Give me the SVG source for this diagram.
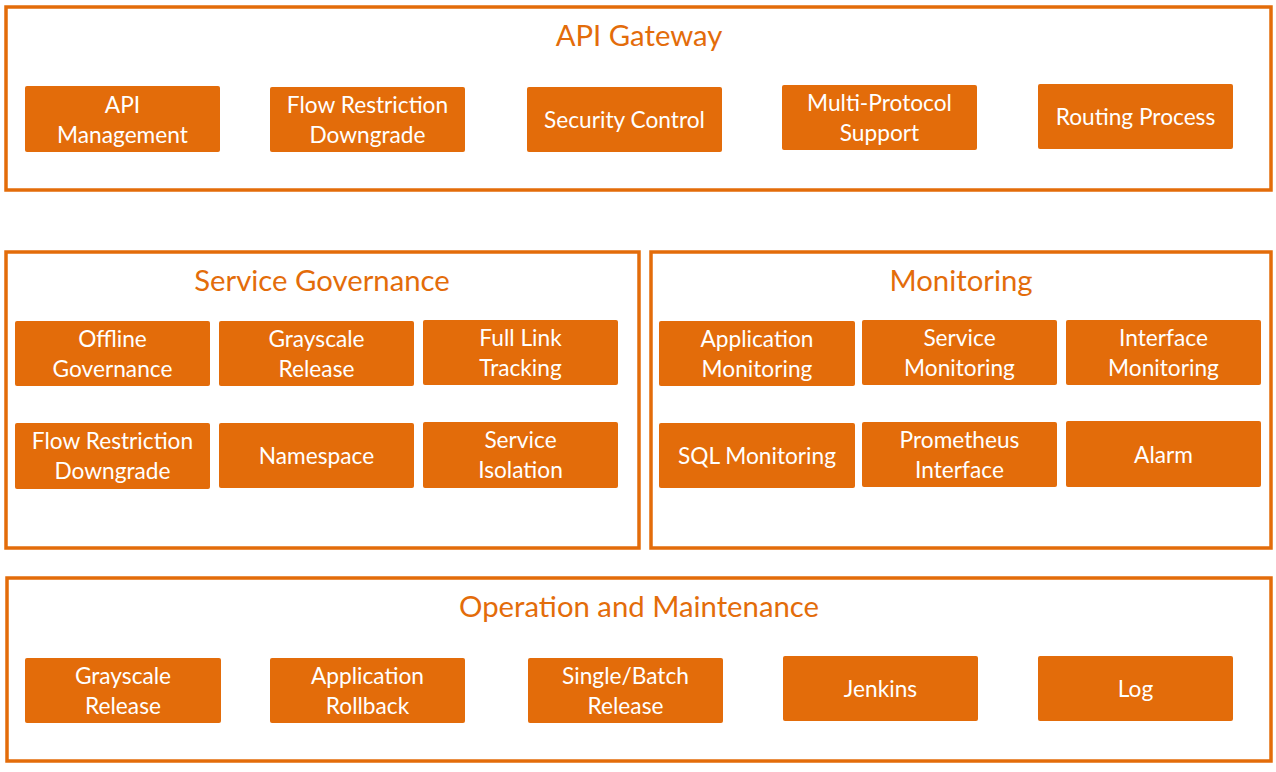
<svg xmlns="http://www.w3.org/2000/svg" width="1276" height="772" viewBox="0 0 1276 772">
<style>
.frame{fill:#fff;stroke:#E36C0A;stroke-width:3.5}
.n rect{fill:#E36C0A;stroke:none}
.n text{fill:#fff;font-family:Lato,"Open Sans",sans-serif;font-size:22.7px;text-anchor:middle;dominant-baseline:central}
.t{fill:#E36C0A;font-family:Lato,"Open Sans",sans-serif;font-size:29.3px;text-anchor:middle;dominant-baseline:central}
</style>
<rect width="1276" height="772" fill="#fff"/>
<g id="api-gateway">
<rect class="frame" x="6" y="7" width="1265" height="183"/>
<text class="t" x="639" y="34">API Gateway</text>
</g>
<g id="service-governance">
<rect class="frame" x="6" y="252" width="633" height="296"/>
<text class="t" x="322" y="279">Service Governance</text>
</g>
<g id="monitoring">
<rect class="frame" x="651" y="252" width="620" height="296"/>
<text class="t" x="961" y="279">Monitoring</text>
</g>
<g id="operation-maintenance">
<rect class="frame" x="7" y="578" width="1264" height="183"/>
<text class="t" x="639" y="605">Operation and Maintenance</text>
</g>
<g id="connectors"></g>
<g id="api-management" class="n"><rect x="25" y="86" width="195" height="66" rx="2"/><text x="122.5" y="104">API</text><text x="122.5" y="134">Management</text></g>
<g id="gw-flow-restriction" class="n"><rect x="270" y="87" width="195" height="65" rx="2"/><text x="367.5" y="104">Flow Restriction</text><text x="367.5" y="134">Downgrade</text></g>
<g id="security-control" class="n"><rect x="527" y="87" width="195" height="65" rx="2"/><text x="624.5" y="119">Security Control</text></g>
<g id="multi-protocol" class="n"><rect x="782" y="85" width="195" height="65" rx="2"/><text x="879.5" y="102">Multi-Protocol</text><text x="879.5" y="132">Support</text></g>
<g id="routing-process" class="n"><rect x="1038" y="84" width="195" height="65" rx="2"/><text x="1135.5" y="116.5">Routing Process</text></g>

<g id="offline-governance" class="n"><rect x="15" y="321" width="195" height="65" rx="2"/><text x="112.5" y="338">Offline</text><text x="112.5" y="368">Governance</text></g>
<g id="sg-grayscale" class="n"><rect x="219" y="321" width="195" height="65" rx="2"/><text x="316.5" y="338">Grayscale</text><text x="316.5" y="368">Release</text></g>
<g id="full-link" class="n"><rect x="423" y="320" width="195" height="65" rx="2"/><text x="520.5" y="337">Full Link</text><text x="520.5" y="367">Tracking</text></g>
<g id="sg-flow-restriction" class="n"><rect x="15" y="423" width="195" height="66" rx="2"/><text x="112.5" y="440">Flow Restriction</text><text x="112.5" y="470">Downgrade</text></g>
<g id="namespace" class="n"><rect x="219" y="423" width="195" height="65" rx="2"/><text x="316.5" y="455">Namespace</text></g>
<g id="service-isolation" class="n"><rect x="423" y="422" width="195" height="66" rx="2"/><text x="520.5" y="439">Service</text><text x="520.5" y="469">Isolation</text></g>

<g id="application-monitoring" class="n"><rect x="659" y="321" width="196" height="65" rx="2"/><text x="757" y="338">Application</text><text x="757" y="368">Monitoring</text></g>
<g id="service-monitoring" class="n"><rect x="862" y="320" width="195" height="65" rx="2"/><text x="959.5" y="337">Service</text><text x="959.5" y="367">Monitoring</text></g>
<g id="interface-monitoring" class="n"><rect x="1066" y="320" width="195" height="65" rx="2"/><text x="1163.5" y="337">Interface</text><text x="1163.5" y="367">Monitoring</text></g>
<g id="sql-monitoring" class="n"><rect x="659" y="423" width="196" height="65" rx="2"/><text x="757" y="455">SQL Monitoring</text></g>
<g id="prometheus-interface" class="n"><rect x="862" y="422" width="195" height="65" rx="2"/><text x="959.5" y="439">Prometheus</text><text x="959.5" y="469">Interface</text></g>
<g id="alarm" class="n"><rect x="1066" y="421" width="195" height="66" rx="2"/><text x="1163.5" y="454">Alarm</text></g>

<g id="om-grayscale" class="n"><rect x="25" y="658" width="196" height="65" rx="2"/><text x="123" y="675">Grayscale</text><text x="123" y="705">Release</text></g>
<g id="application-rollback" class="n"><rect x="270" y="658" width="195" height="65" rx="2"/><text x="367.5" y="675">Application</text><text x="367.5" y="705">Rollback</text></g>
<g id="single-batch" class="n"><rect x="528" y="658" width="195" height="65" rx="2"/><text x="625.5" y="675">Single/Batch</text><text x="625.5" y="705">Release</text></g>
<g id="jenkins" class="n"><rect x="783" y="656" width="195" height="65" rx="2"/><text x="880.5" y="688.5">Jenkins</text></g>
<g id="log" class="n"><rect x="1038" y="656" width="195" height="65" rx="2"/><text x="1135.5" y="688.5">Log</text></g>
</svg>
